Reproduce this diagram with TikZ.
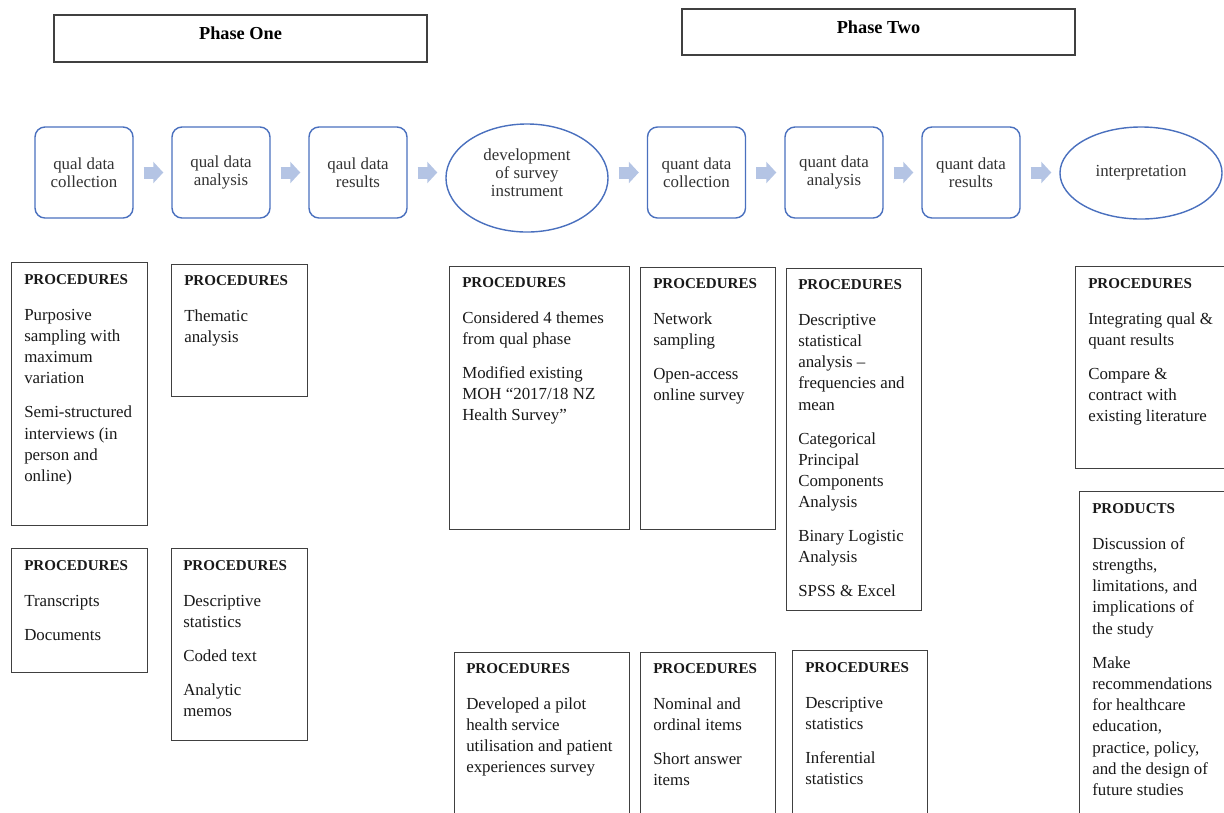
\documentclass[tikz,border=0pt]{standalone}
\usepackage{fontspec}
\setmainfont{Liberation Serif}
\usetikzlibrary{arrows.meta,shapes.geometric}
\definecolor{flowblue}{RGB}{74,112,190}
\definecolor{arrowblue}{RGB}{180,196,228}
\newcommand{\proctitle}{{\fontsize{10.7}{13}\selectfont\bfseries PROCEDURES}}
\newcommand{\prodtitle}{{\fontsize{10.7}{13}\selectfont\bfseries PRODUCTS}}

\begin{document}
\begin{tikzpicture}[x=0.025cm,y=-0.025cm]
            \tikzstyle{every node} = [font=\fontsize{12}{15.1}\selectfont, text=black!90]
            \tikzstyle{phase} = [draw=black!75, line width=1pt, text depth=0.25cm, font=\fontsize{13}{15}\selectfont\bfseries, text=black]
            \tikzstyle{stage} = [draw=flowblue, line width=1pt, rounded corners=0.25cm, minimum width=2.45cm, minimum height=2.275cm, align=center, font=\fontsize{12}{12.8}\selectfont, text=black!80]
            \tikzstyle{oval} = [draw=flowblue, line width=1pt, ellipse, inner sep=0pt, minimum width=4.05cm, align=center, font=\fontsize{12}{12.8}\selectfont, text=black!80]
            \tikzstyle{flow} = [draw=arrowblue, line width=0.3cm, -{Triangle[length=0.25cm,width=0.525cm]}, shorten <=0.25cm, shorten >=0.2cm]
            \tikzstyle{box} = [draw=black!75, line width=0.9pt, anchor=north west, inner sep=0pt]
            \tikzstyle{txt} = [anchor=north west, inner sep=0pt, align=left]
            \clip (0,0) rectangle (1224,812);
            % phases
            \node[phase, minimum width=9.325cm, minimum height=1.175cm] (phaseone) at (240.5,38.5) {Phase One};
            \node[phase, minimum width=9.825cm, minimum height=1.15cm] (phasetwo) at (878.5,32) {Phase Two};
            % flow
            \node[stage] (qualcol) at (84,172.5) {qual data\\collection};
            \node[stage] (qualana) at (221,172.5) {qual data\\analysis};
            \node[stage] (qualres) at (358,172.5) {qaul data\\results};
            \node[oval, minimum height=2.7cm, text depth=0.275cm] (dev) at (527,178) {development\\of survey\\instrument};
            \node[stage] (quantcol) at (696.5,172.5) {quant data\\collection};
            \node[stage] (quantana) at (834,172.5) {quant data\\analysis};
            \node[stage] (quantres) at (971,172.5) {quant data\\results};
            \node[oval, minimum height=2.3cm] (interp) at (1141,173) {interpretation};
            \draw[flow] (qualcol.east) -- (qualcol.east -| qualana.west);
            \draw[flow] (qualana.east) -- (qualana.east -| qualres.west);
            \draw[flow] (qualres.east) -- (qualres.east -| dev.west);
            \draw[flow] (quantcol.west -| dev.east) -- (quantcol.west);
            \draw[flow] (quantcol.east) -- (quantcol.east -| quantana.west);
            \draw[flow] (quantana.east) -- (quantana.east -| quantres.west);
            \draw[flow] (quantres.east) -- (quantres.east -| interp.west);
            % qual boxes
            \node[box, minimum width=3.4cm, minimum height=6.575cm] (qualcolproc) at (11,262) {};
            \node[txt] (qualcoltxt) at (24,274) {\proctitle\\[10.5pt]Purposive\\sampling with\\maximum\\variation\\[9pt]Semi-structured\\interviews (in\\person and\\online)};
            \node[box, minimum width=3.4cm, minimum height=3.3cm] (qualanaproc) at (171,264) {};
            \node[txt] (qualanatxt) at (184,275) {\proctitle\\[10.5pt]Thematic\\analysis};
            \node[box, minimum width=3.4cm, minimum height=3.1cm] (qualcolprod) at (11,548) {};
            \node[txt] (qualcolprodtxt) at (24,560) {\proctitle\\[10.5pt]Transcripts\\[9pt]Documents};
            \node[box, minimum width=3.4cm, minimum height=4.8cm] (qualanaprod) at (171,548) {};
            \node[txt] (qualanaprodtxt) at (183,560) {\proctitle\\[10.5pt]Descriptive\\statistics\\[9pt]Coded text\\[9pt]Analytic\\memos};
            % survey boxes
            \node[box, minimum width=4.5cm, minimum height=6.575cm] (devproc) at (449,266) {};
            \node[txt] (devtxt) at (462,277) {\proctitle\\[10.5pt]Considered 4 themes\\from qual phase\\[9pt]Modified existing\\MOH “2017/18 NZ\\Health Survey”};
            \node[box, minimum width=4.375cm, minimum height=5cm] (devprod) at (454,652) {};
            \node[txt] (devprodtxt) at (466,663) {\proctitle\\[10.5pt]Developed a pilot\\health service\\utilisation and patient\\experiences survey};
            % quant boxes
            \node[box, minimum width=3.375cm, minimum height=6.55cm] (quantcolproc) at (640,267) {};
            \node[txt] (quantcoltxt) at (653,278) {\proctitle\\[10.5pt]Network\\sampling\\[9pt]Open-access\\online survey};
            \node[box, minimum width=3.375cm, minimum height=5cm] (quantcolprod) at (640,652) {};
            \node[txt] (quantcolprodtxt) at (653,663) {\proctitle\\[10.5pt]Nominal and\\ordinal items\\[9pt]Short answer\\items};
            \node[box, minimum width=3.375cm, minimum height=8.55cm] (quantanaproc) at (786,268) {};
            \node[txt] (quantanatxt) at (798,279) {\proctitle\\[10.5pt]Descriptive\\statistical\\analysis –\\frequencies and\\mean\\[9pt]Categorical\\Principal\\Components\\Analysis\\[9pt]Binary Logistic\\Analysis\\[9pt]SPSS \& Excel};
            \node[box, minimum width=3.375cm, minimum height=5cm] (quantanaprod) at (792,650) {};
            \node[txt] (quantanaprodtxt) at (805,662) {\proctitle\\[10.5pt]Descriptive\\statistics\\[9pt]Inferential\\statistics};
            % interpretation boxes
            \node[box, minimum width=5cm, minimum height=5.05cm] (interpproc) at (1075,266) {};
            \node[txt] (interptxt) at (1088,278) {\proctitle\\[10.5pt]Integrating qual \&\\quant results\\[9pt]Compare \&\\contract with\\existing literature};
            \node[box, minimum width=5cm, minimum height=10cm] (interpprod) at (1079,491) {};
            \node[txt] (interpprodtxt) at (1092,503) {\prodtitle\\[10.5pt]Discussion of\\strengths,\\limitations, and\\implications of\\the study\\[9pt]Make\\recommendations\\for healthcare\\education,\\practice, policy,\\and the design of\\future studies};
        \end{tikzpicture}
\end{document}
